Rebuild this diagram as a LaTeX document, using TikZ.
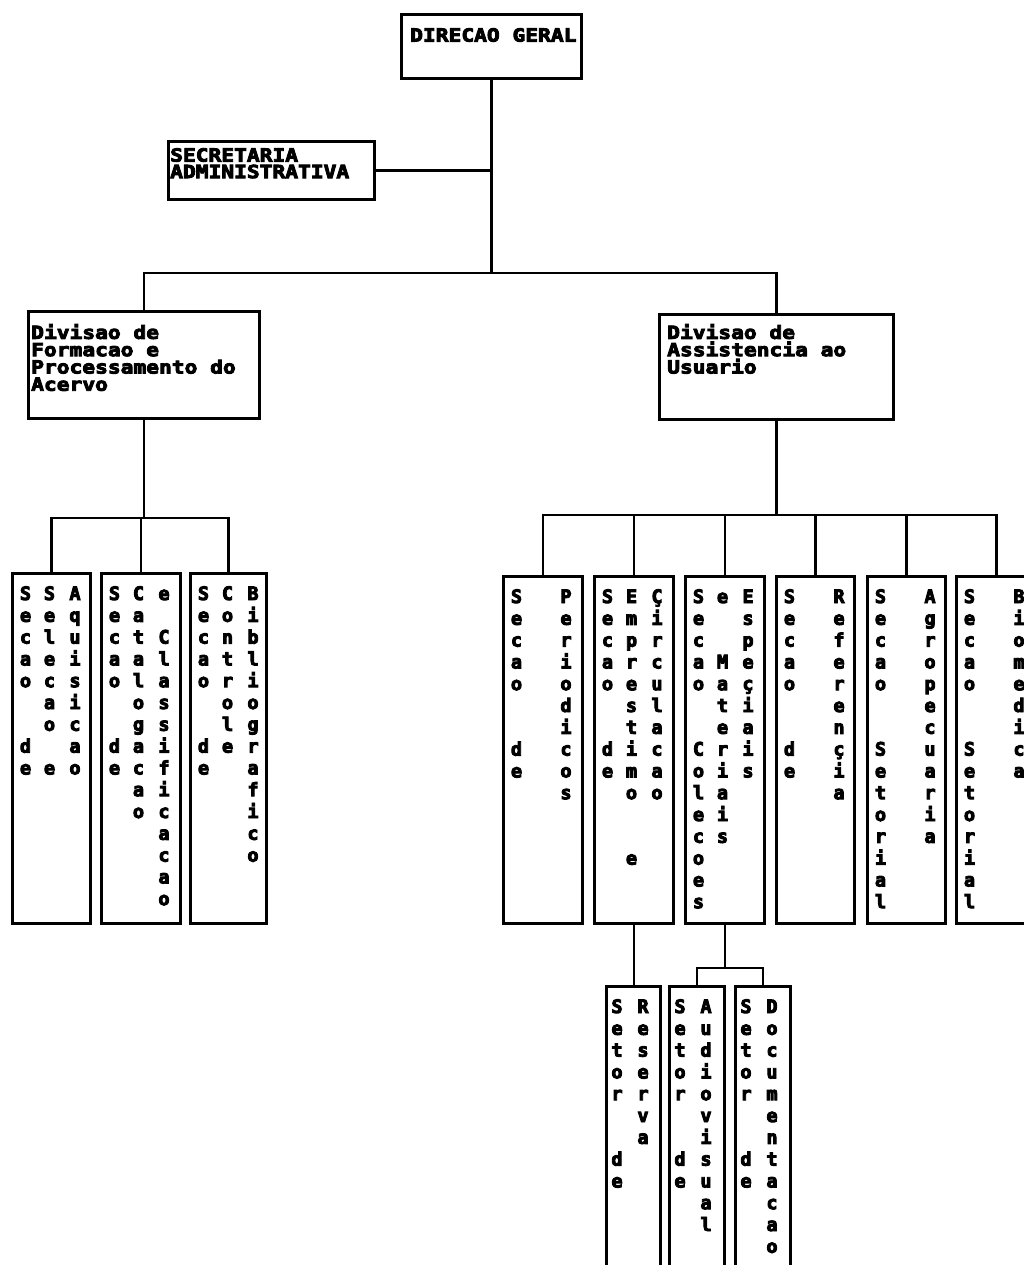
\documentclass[tikz,border=0pt]{standalone}
\usepackage{fontspec}
\newfontfamily\dotfont{DejaVu Sans Mono}[BoldFont={DejaVu Sans Mono Bold}]
\newfontfamily\hdrfont{DejaVu Sans Mono}[BoldFont={DejaVu Sans Mono Bold}, FakeStretch=1.18]
\newcommand{\heavy}[1]{\special{pdf:literal direct 2 Tr 0.9 w}#1\special{pdf:literal direct 0 Tr}}
\usetikzlibrary{calc}
\tikzset{
  box/.style={draw=black, line width=2.8pt, rectangle, inner sep=0pt, anchor=north west, fill=white},
  conn/.style={draw=black, line width=2.6pt},
  hdr/.style={font=\hdrfont\bfseries\fontsize{18}{17.3}\selectfont, inner sep=0pt, anchor=north west, align=left},
  hdrtight/.style={font=\hdrfont\bfseries\fontsize{18}{16.5}\selectfont, inner sep=0pt, anchor=north west, align=left},
  letter/.style={font=\dotfont\bfseries\fontsize{18.5}{18}\selectfont, inner sep=0pt, anchor=base},
}
% #1 box name, #2 column tag, #3 x offset from box left, #4 list of characters
\newcommand{\vcolumn}[4]{%
  \foreach \ch [count=\i] in {#4} {%
    \node[letter] (#1-#2-\i) at ([shift={(#3,28+21.8*\i-21.8)}]#1.north west) {\heavy{\ch}};
  }%
}
\begin{document}
\begin{tikzpicture}[x=1pt,y=-1pt]
\useasboundingbox (0,0) rectangle (1024,1265);
\fill[white] (0,0) rectangle (1024,1265);
\clip (0,0) rectangle (1024,1265);

% top level
\node[box, minimum width=180pt, minimum height=64pt] (dg) at (400,13) {};
\node[hdr] (dgt) at (410,28) {\heavy{DIRECAO GERAL}};

\node[box, minimum width=206pt, minimum height=58pt] (sec) at (167,140) {};
\node[hdrtight] (sect) at (170,148) {\heavy{SECRETARIA}\\\heavy{ADMINISTRATIVA}};

\node[box, minimum width=231pt, minimum height=107pt] (divf) at (27,310) {};
\node[hdr] (divft) at (31,324) {\heavy{Divisao de}\\\heavy{Formacao e}\\\heavy{Processamento do}\\\heavy{Acervo}};

\node[box, minimum width=234pt, minimum height=105pt] (diva) at (658,313) {};
\node[hdr] (divat) at (667,324) {\heavy{Divisao de}\\\heavy{Assistencia ao}\\\heavy{Usuario}};

% left sections
\node[box, minimum width=78pt, minimum height=350pt] (f1) at (11,572) {};
\node[box, minimum width=79pt, minimum height=350pt] (f2) at (100,572) {};
\node[box, minimum width=76pt, minimum height=350pt] (f3) at (189,572) {};

% right sections
\node[box, minimum width=79pt, minimum height=347pt] (a1) at (502,575) {};
\node[box, minimum width=79pt, minimum height=347pt] (a2) at (593,575) {};
\node[box, minimum width=79pt, minimum height=347pt] (a3) at (684,575) {};
\node[box, minimum width=78pt, minimum height=347pt] (a4) at (775,575) {};
\node[box, minimum width=78pt, minimum height=347pt] (a5) at (866,575) {};
\node[box, minimum width=80pt, minimum height=347pt] (a6) at (955,575) {};

% bottom sectors
\node[box, minimum width=54pt, minimum height=400pt] (s1) at (605,985) {};
\node[box, minimum width=55pt, minimum height=400pt] (s2) at (668,985) {};
\node[box, minimum width=55pt, minimum height=400pt] (s3) at (734,985) {};

% connectors
\coordinate (j1) at ($(dg.south)+(0,193)$);
\draw[conn] (dg.south) -- (j1);
\draw[conn] (sec.east) -- (sec.east -| dg.south);
\draw[conn] (divf.north) |- (j1) -| (diva.north);

\coordinate (fj) at ($(divf.south)+(0,98)$);
\draw[conn] (divf.south) -- (fj);
\draw[conn] (f1.north) |- (fj) -| (f3.north);
\draw[conn] (f2.north) -- (f2.north |- fj);

\coordinate (aj) at ($(diva.south)+(0,94)$);
\draw[conn] (diva.south) -- (aj);
\draw[conn] (a1.north) |- (aj) -| (a6.north);
\foreach \n in {a2,a3,a4,a5} {\draw[conn] (\n.north) -- (\n.north |- aj);}

\draw[conn] (a2.south) -- (a2.south |- s1.north);
\coordinate (bj) at ($(a3.south)+(0,43)$);
\draw[conn] (a3.south) -- (bj);
\draw[conn] (s2.north) |- (bj) -| (s3.north);

% vertical texts
\vcolumn{f1}{1}{14.5}{S,e,c,a,o,,,d,e}
\vcolumn{f1}{2}{38.5}{S,e,l,e,c,a,o,,e}
\vcolumn{f1}{3}{64}{A,q,u,i,s,i,c,a,o}

\vcolumn{f2}{1}{14.5}{S,e,c,a,o,,,d,e}
\vcolumn{f2}{2}{38.5}{C,a,t,a,l,o,g,a,c,a,o}
\vcolumn{f2}{3}{64}{e,,C,l,a,s,s,i,f,i,c,a,c,a,o}

\vcolumn{f3}{1}{14.5}{S,e,c,a,o,,,d,e}
\vcolumn{f3}{2}{38.5}{C,o,n,t,r,o,l,e}
\vcolumn{f3}{3}{64}{B,i,b,l,i,o,g,r,a,f,i,c,o}

\vcolumn{a1}{1}{14.5}{S,e,c,a,o,,,d,e}
\vcolumn{a1}{3}{64}{P,e,r,i,o,d,i,c,o,s}

\vcolumn{a2}{1}{14.5}{S,e,c,a,o,,,d,e}
\vcolumn{a2}{2}{38.5}{E,m,p,r,e,s,t,i,m,o,,,e}
\vcolumn{a2}{3}{64}{Ç,i,r,c,u,l,a,c,a,o}

\vcolumn{a3}{1}{14.5}{S,e,c,a,o,,,C,o,l,e,c,o,e,s}
\vcolumn{a3}{2}{38.5}{e,,,M,a,t,e,r,i,a,i,s}
\vcolumn{a3}{3}{64}{E,s,p,e,ç,i,a,i,s}

\vcolumn{a4}{1}{14.5}{S,e,c,a,o,,,d,e}
\vcolumn{a4}{3}{64}{R,e,f,e,r,e,n,ç,i,a}

\vcolumn{a5}{1}{14.5}{S,e,c,a,o,,,S,e,t,o,r,i,a,l}
\vcolumn{a5}{3}{64}{A,g,r,o,p,e,c,u,a,r,i,a}

\vcolumn{a6}{1}{14.5}{S,e,c,a,o,,,S,e,t,o,r,i,a,l}
\vcolumn{a6}{3}{64}{B,i,o,m,e,d,i,c,a}

\vcolumn{s1}{1}{12}{S,e,t,o,r,,,d,e}
\vcolumn{s1}{2}{38}{R,e,s,e,r,v,a}
\vcolumn{s2}{1}{12}{S,e,t,o,r,,,d,e}
\vcolumn{s2}{2}{38}{A,u,d,i,o,v,i,s,u,a,l}
\vcolumn{s3}{1}{12}{S,e,t,o,r,,,d,e}
\vcolumn{s3}{2}{38}{D,o,c,u,m,e,n,t,a,c,a,o}
\end{tikzpicture}
\end{document}
